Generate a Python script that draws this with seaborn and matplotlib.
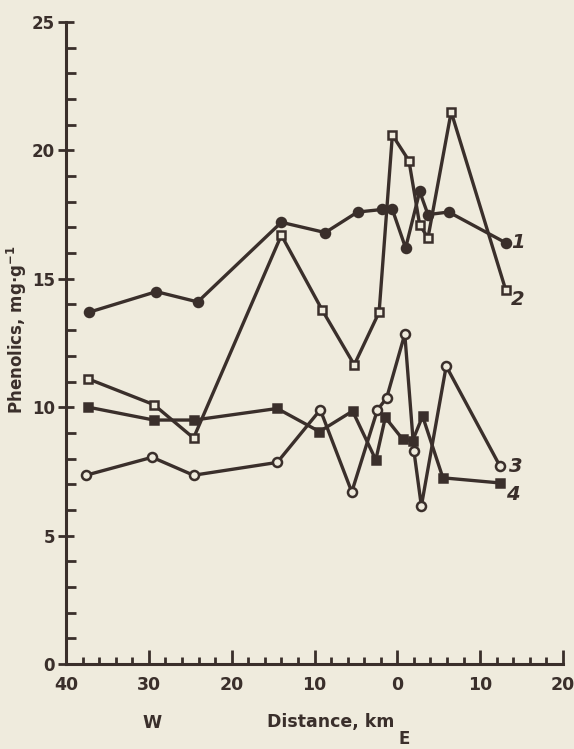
import numpy as np
import pandas as pd
import seaborn as sns
import matplotlib.pyplot as plt
from matplotlib.ticker import MultipleLocator, FuncFormatter

# distance along transect, km (W negative, E positive)
dist_1 = [-37.2, -29.1, -24.1, -14.0, -8.7, -4.8, -1.8, -0.6, 1.0, 2.7, 3.7, 6.2, 13.1]
phen_1 = [13.7, 14.5, 14.1, 17.2, 16.8, 17.6, 17.7, 17.7, 16.2, 18.4, 17.5, 17.6, 16.4]

dist_2 = [-37.3, -29.4, -24.6, -14.0, -9.1, -5.2, -2.2, -0.6, 1.4, 2.7, 3.7, 6.5, 13.1]
phen_2 = [11.1, 10.1, 8.8, 16.7, 13.8, 11.65, 13.7, 20.6, 19.6, 17.1, 16.6, 21.5, 14.55]

dist_3 = [-37.6, -29.6, -24.6, -14.5, -9.3, -5.5, -2.4, -1.3, 0.9, 2.0, 2.9, 5.9, 12.4]
phen_3 = [7.35, 8.05, 7.35, 7.85, 9.9, 6.7, 9.9, 10.35, 12.85, 8.3, 6.15, 11.6, 7.7]

dist_4 = [-37.3, -29.4, -24.5, -14.5, -9.4, -5.4, -2.6, -1.45, 0.65, 1.85, 3.05, 5.5, 12.4]
phen_4 = [10.0, 9.5, 9.5, 9.95, 9.05, 9.85, 7.95, 9.6, 8.75, 8.7, 9.65, 7.25, 7.05]

series_names = ['1', '2', '3', '4']

paper = '#efebdd'
ink = '#3a2f2b'

sns.set_style('ticks')
plt.rcParams['font.family'] = ['DejaVu Sans']

fig = plt.figure(figsize=(5.74, 7.49), dpi=100, facecolor=paper)
ax = fig.add_axes([66/574, 1 - 664/749, (563 - 66)/574, (664 - 22)/749])
ax.set_facecolor(paper)

styles = [('o', ink), ('s', paper), ('o', paper), ('s', ink)]
data = [(dist_1, phen_1), (dist_2, phen_2), (dist_3, phen_3), (dist_4, phen_4)]
for (d, v), (mk, face) in zip(data, styles):
    sns.lineplot(x=d, y=v, sort=False, errorbar=None, ax=ax, color=ink, lw=2.4,
                 marker=mk, markersize=6.5 if mk == 'o' else 6,
                 markerfacecolor=face, markeredgecolor=ink, markeredgewidth=1.8)

# series numbers at line ends
lab_x = [14.6, 14.5, 14.3, 14.0]
lab_y = [16.4, 14.2, 7.7, 6.6]
for t, x, y in zip(series_names, lab_x, lab_y):
    ax.text(x, y, t, fontsize=14, fontweight='bold', style='italic', color=ink,
            ha='center', va='center')

ax.set_xlim(-40, 20)
ax.set_ylim(0, 25)
sns.despine(ax=ax)
for s in ['left', 'bottom']:
    ax.spines[s].set_linewidth(2.2)
    ax.spines[s].set_color(ink)

ax.xaxis.set_major_locator(MultipleLocator(10))
ax.xaxis.set_minor_locator(MultipleLocator(2))
ax.yaxis.set_major_locator(MultipleLocator(5))
ax.yaxis.set_minor_locator(MultipleLocator(1))
ax.xaxis.set_major_formatter(FuncFormatter(lambda v, p: f'{abs(v):.0f}'))

ax.tick_params(axis='x', which='major', direction='in', length=10, width=2,
               color=ink, labelsize=12.5, pad=9)
ax.tick_params(axis='x', which='minor', direction='in', length=5, width=2, color=ink)
ax.tick_params(axis='y', which='major', direction='inout', length=12, width=2,
               color=ink, labelsize=12, pad=2)
ax.tick_params(axis='y', which='minor', direction='in', length=7, width=2, color=ink)
for lab in ax.get_xticklabels() + ax.get_yticklabels():
    lab.set_fontweight('bold')
    lab.set_color(ink)

ax.set_xlabel('')
fig.text(17/574, 1 - 330/749, 'Phenolics, mg·g$^{\\mathbf{-1}}$', rotation=90,
         ha='center', va='center', fontsize=12, fontweight='bold', color=ink)
fig.text(331/574, 1 - 722/749, 'Distance, km', ha='center', va='center',
         fontsize=12.5, fontweight='bold', color=ink)
fig.text(152/574, 1 - 723/749, 'W', ha='center', va='center',
         fontsize=12.5, fontweight='bold', color=ink)
fig.text(404/574, 1 - 739/749, 'E', ha='center', va='center',
         fontsize=12, fontweight='bold', color=ink)

fig.savefig('out.png', dpi=100, facecolor=paper)
